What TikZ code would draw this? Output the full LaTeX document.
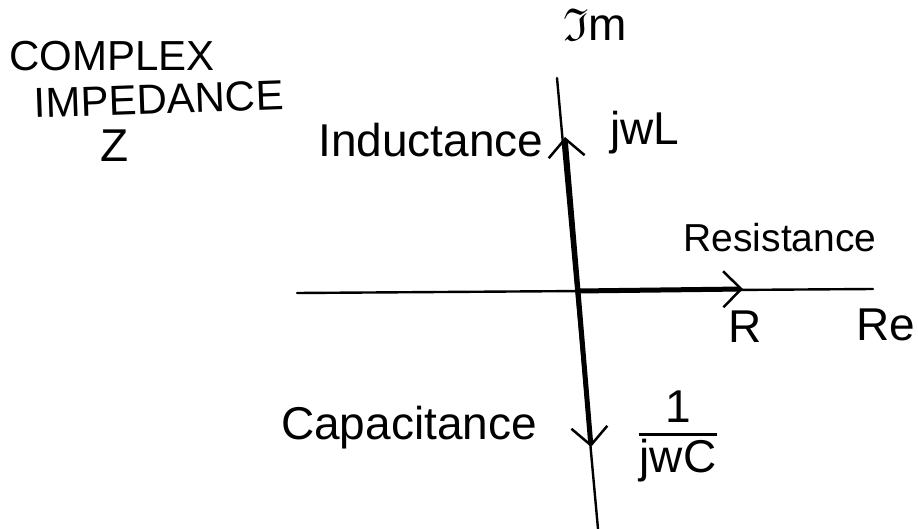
\documentclass[tikz,border=0pt]{standalone}
\usepackage{fontspec}
\usepackage{amsfonts}
\setmainfont{Liberation Sans}
\usetikzlibrary{arrows.meta}
\begin{document}
\begin{tikzpicture}[x=1pt,y=-1pt,
  lbl/.style={inner sep=0pt,font=\fontsize{46}{50}\selectfont},
  axisline/.style={line width=2.4pt,line cap=round},
  vec/.style={line width=5pt,-{Straight Barb[length=18pt,width=36pt,line width=2.5pt]}}]
\useasboundingbox (0,0) rectangle (918,529);
% axes
\coordinate (o) at (578,291);
\coordinate (ytop) at (557,78);
\coordinate (ybot) at (598,529);
\coordinate (xl) at (297,293);
\coordinate (xr) at (873,289);
\draw[axisline] (ytop) -- (ybot);
\draw[axisline] (xl) -- (xr);
% vectors
\coordinate (tipL) at (565,137);
\coordinate (tipR) at (743,289);
\coordinate (tipC) at (591,447);
\draw[vec] (o) -- (tipL);
\draw[vec] (o) -- (tipR);
\draw[vec] (o) -- (tipC);
% labels
\node[lbl,font=\fontsize{42}{46}\selectfont] (t1) at (112,56) {COMPLEX};
\node[lbl,font=\fontsize{42}{46}\selectfont,rotate=2] (t2) at (159,99) {IMPEDANCE};
\node[lbl] (t3) at (115,146) {Z};
\node[lbl] (im) at (595,25) {$\mathfrak{I}$m};
\node[lbl] (ind) at (431,140) {Inductance};
\node[lbl] (jwl) at (645,133) {jwL};
\node[lbl,font=\fontsize{39}{43}\selectfont] (res) at (780,238) {Resistance};
\node[lbl] (r) at (745,327) {R};
\node[lbl] (re) at (886,325) {Re};
\node[lbl] (cap) at (409,428) {Capacitance};
\node[lbl] (num) at (678,407) {1};
\node[lbl] (den) at (678,461) {jwC};
\draw[line width=2.4pt] ([yshift=5pt]den.north west) -- ([yshift=5pt]den.north east);
\end{tikzpicture}
\end{document}
